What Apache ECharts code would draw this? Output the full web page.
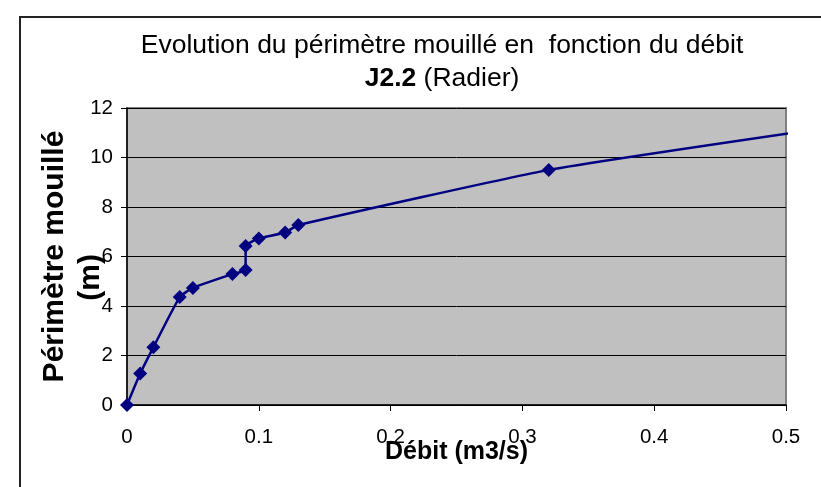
<!DOCTYPE html>
<html>
<head>
<meta charset="utf-8">
<script src="https://cdn.jsdelivr.net/npm/echarts@6/dist/echarts.min.js"></script>
<style>
  html, body { margin: 0; padding: 0; background: #fff; }
  #chart { width: 821px; height: 487px; }
</style>
</head>
<body>
<div id="chart"></div>
<script>
// débit (m3/s) et périmètre mouillé (m)
const debit = [0, 0.01, 0.02, 0.04, 0.05, 0.08, 0.09, 0.09, 0.1, 0.12, 0.13, 0.32, 0.505];
const perimetre = [0, 1.27, 2.33, 4.36, 4.73, 5.29, 5.45, 6.42, 6.73, 6.97, 7.27, 9.5, 11.0];
// le dernier point n'a pas de marqueur
const showMarker = [true, true, true, true, true, true, true, true, true, true, true, true, false];
const xTicks = ['0', '0.1', '0.2', '0.3', '0.4', '0.5'];

const chart = echarts.init(document.getElementById('chart'));

const points = debit.map(function (d, i) {
  const item = { value: [d, perimetre[i]] };
  if (!showMarker[i]) item.symbol = 'none';
  return item;
});

const options = {
  backgroundColor: '#fff',
  animation: false,
  //titre
  title: {
    text: 'Evolution du périmètre mouillé en  fonction du débit\n{b|J2.2} (Radier)',
    left: 437,
    top: 24,
    textAlign: 'center',
    textStyle: {
      fontFamily: 'Liberation Sans',
      fontSize: 26.5,
      fontWeight: 'normal',
      color: '#000',
      lineHeight: 33,
      rich: {
        b: { fontFamily: 'Liberation Sans', fontSize: 26.5, fontWeight: 'bold', lineHeight: 33 }
      }
    }
  },
  grid: {
    show: true,
    left: 127,
    right: 35,
    top: 108,
    bottom: 82,
    backgroundColor: '#C0C0C0',
    borderColor: '#808080',
    borderWidth: 2
  },
  xAxis: {
    type: 'value',
    min: 0,
    max: 0.5,
    interval: 0.1,
    name: 'Débit (m3/s)',
    nameLocation: 'middle',
    nameGap: 35,
    nameMoveOverlap: false,
    nameTextStyle: {
      fontFamily: 'Liberation Sans',
      fontSize: 25,
      fontWeight: 'bold',
      color: '#000'
    },
    axisLine: { show: true, lineStyle: { color: '#000', width: 1.5 } },
    axisTick: { show: true, length: 6, lineStyle: { color: '#000' } },
    splitLine: { show: false },
    axisLabel: {
      margin: 22,
      fontFamily: 'Liberation Sans',
      fontSize: 20.5,
      color: '#000',
      formatter: function (v) {
        return xTicks[Math.round(v * 10)];
      }
    }
  },
  yAxis: {
    type: 'value',
    min: 0,
    max: 12,
    interval: 2,
    name: 'Périmètre mouillé\n(m)     ',
    nameLocation: 'middle',
    nameGap: 18,
    nameMoveOverlap: false,
    nameTextStyle: {
      fontFamily: 'Liberation Sans',
      fontSize: 30,
      fontWeight: 'bold',
      color: '#000',
      lineHeight: 36
    },
    axisLine: { show: true, lineStyle: { color: '#000', width: 1.5 } },
    axisTick: { show: true, length: 6, lineStyle: { color: '#000' } },
    splitLine: { show: true, lineStyle: { color: '#000', width: 1 } },
    axisLabel: {
      margin: 14,
      fontFamily: 'Liberation Sans',
      fontSize: 20.5,
      color: '#000'
    }
  },
  graphic: [
    {
      type: 'rect',
      shape: { x: 20, y: 17, width: 900, height: 600 },
      style: { fill: 'none', stroke: '#222', lineWidth: 2 },
      silent: true
    }
  ],
  series: [
    {
      type: 'line',
      data: points,
      smooth: 0.15,
      clip: false,
      symbol: 'diamond',
      symbolSize: 14,
      itemStyle: { color: '#000080' },
      lineStyle: { color: '#000080', width: 2.5 }
    }
  ]
};

chart.setOption(options);
</script>
</body>
</html>
